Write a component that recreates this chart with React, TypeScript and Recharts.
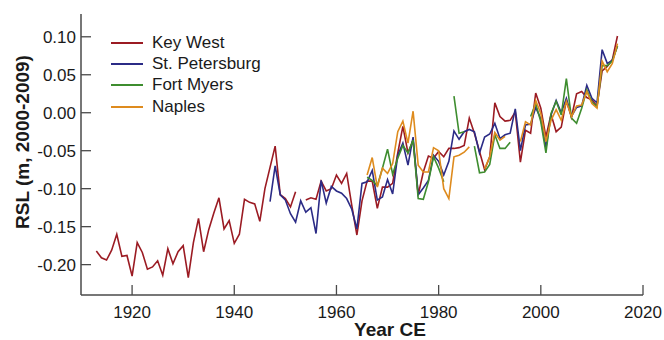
import { LineChart, Line, XAxis, YAxis, Legend, Label } from "recharts";

const FONT = '"Liberation Sans", Arial, Helvetica, sans-serif';
const TEXT = "#1a1a1a";
const AXIS = "#4a4a4a";

// annual relative sea level, metres, relative to 2000-2009 mean (null = gap)
const keyWestStart = 1913;
const keyWest = [
  -0.182, -0.191, -0.194, -0.181, -0.16, -0.189, -0.188, -0.215, -0.171, -0.184,
  -0.206, -0.203, -0.195, -0.214, -0.179, -0.199, -0.183, -0.175, -0.217, -0.171,
  -0.139, -0.183, -0.154, -0.132, -0.112, -0.153, -0.142, -0.172, -0.16, -0.114,
  -0.118, -0.12, -0.143, -0.1, -0.072, -0.044, -0.108, -0.113, -0.124, -0.104,
  null, -0.115, -0.112, -0.114, -0.09, -0.103, -0.1, -0.082, -0.093, -0.08,
  -0.122, -0.161, -0.116, -0.09, -0.09, -0.126, -0.098, -0.098, -0.093, -0.053,
  -0.018, -0.053, -0.036, -0.108, -0.078, -0.057, -0.06, -0.051, -0.058, -0.047,
  -0.047, -0.046, -0.043, -0.007, -0.027, -0.051, -0.075, -0.058, 0.013, -0.005,
  -0.011, -0.01, 0.001, -0.065, -0.023, -0.027, 0.026, 0.006, -0.032, -0.002,
  -0.025, -0.019, 0.016, -0.006, 0.025, 0.028, 0.02, 0.017, 0.009, 0.055,
  0.061, 0.07, 0.101,
];

const stPeteStart = 1947;
const stPetersburg = [
  -0.117, -0.07, -0.108, -0.115, -0.133, -0.144, -0.116, -0.131, -0.125, -0.159,
  -0.089, -0.119, -0.097, -0.103, -0.106, -0.113, -0.127, -0.153, -0.093, -0.091,
  -0.076, -0.115, -0.111, -0.088, -0.107, -0.056, -0.04, -0.069, -0.032, -0.108,
  -0.099, -0.089, -0.056, -0.064, -0.082, -0.064, -0.024, -0.035, -0.025, -0.022,
  -0.025, -0.053, -0.032, -0.028, -0.014, -0.034, -0.029, -0.027, 0.005, -0.05,
  -0.016, -0.015, 0.007, -0.008, -0.046, -0.003, 0.016, 0.0, 0.019, -0.005,
  0.007, 0.009, 0.036, 0.019, 0.013, 0.083, 0.065, 0.069, 0.088,
];

const fortMyersStart = 1966;
const fortMyers = [
  -0.085, -0.089, -0.096, -0.073, -0.048, -0.081, -0.06, -0.043, -0.053, -0.036,
  -0.113, -0.114, -0.091, -0.058, -0.073, -0.091, null, 0.022, -0.027, -0.025,
  null, -0.044, -0.079, -0.078, -0.068, -0.029, -0.047, -0.047, -0.039, null,
  null, null, -0.005, 0.012, -0.012, -0.053, -0.001, 0.015, -0.003, 0.045,
  -0.007, -0.014, 0.006, 0.03, 0.014, 0.008, 0.062, 0.062, 0.068, 0.088,
];

const naplesStart = 1966;
const naples = [
  -0.082, -0.059, -0.098, -0.073, -0.08, -0.067, -0.025, -0.011, -0.04, 0.002,
  -0.069, -0.078, -0.078, -0.046, -0.05, -0.1, -0.113, -0.058, -0.056, -0.052,
  -0.045, null, null, -0.074, -0.058, -0.026, -0.036, -0.031, null, null,
  -0.038, -0.012, -0.016, 0.016, -0.001, -0.038, -0.01, 0.004, -0.01, 0.015,
  -0.005, 0.009, 0.01, 0.028, 0.012, 0.006, 0.068, 0.054, 0.065, 0.091,
];

const xTicks = [1920, 1940, 1960, 1980, 2000, 2020];
const yTicks = [-0.2, -0.15, -0.1, -0.05, 0, 0.05, 0.1];

const series = [
  { key: "kw", name: "Key West", color: "#9b1b23", values: keyWest, start: keyWestStart },
  { key: "sp", name: "St. Petersburg", color: "#2b2b86", values: stPetersburg, start: stPeteStart },
  { key: "fm", name: "Fort Myers", color: "#3e8d2f", values: fortMyers, start: fortMyersStart },
  { key: "na", name: "Naples", color: "#de8b1e", values: naples, start: naplesStart },
];

const rows: Record<string, number | null>[] = [];
for (let yr = keyWestStart; yr <= 2015; yr++) {
  const row: Record<string, number | null> = { year: yr };
  for (const s of series) {
    const v = s.values[yr - s.start];
    row[s.key] = v === undefined ? null : v;
  }
  rows.push(row);
}

const BottomTick = ({ x, y, payload }: any) => (
  <g>
    <line x1={x} y1={y} x2={x} y2={y - 10} stroke={AXIS} strokeWidth={1.3} />
    <text x={x} y={y + 23} textAnchor="middle" fontSize={17} fontFamily={FONT} fill={TEXT}>
      {payload.value}
    </text>
  </g>
);

const TopTick = ({ x, y }: any) => (
  <line x1={x} y1={y} x2={x} y2={y + 10} stroke={AXIS} strokeWidth={1.3} />
);

const LeftTick = ({ x, y, payload }: any) => (
  <g>
    <line x1={x} y1={y} x2={x + 10} y2={y} stroke={AXIS} strokeWidth={1.3} />
    <text x={x - 5} y={y + 6} textAnchor="end" fontSize={17} fontFamily={FONT} fill={TEXT}>
      {Number(payload.value).toFixed(2)}
    </text>
  </g>
);

const RightTick = ({ x, y }: any) => (
  <line x1={x} y1={y} x2={x - 10} y2={y} stroke={AXIS} strokeWidth={1.3} />
);

const renderLegend = () => (
  <div style={{ fontFamily: FONT, fontSize: 17, color: TEXT }}>
    {series.map((s) => (
      <div key={s.key} style={{ display: "flex", alignItems: "center", height: 21.4 }}>
        <span
          style={{ width: 32, height: 0, borderTop: `2px solid ${s.color}`, marginRight: 9 }}
        />
        {s.name}
      </div>
    ))}
  </div>
);

export default function App() {
  return (
    <div style={{ position: "absolute", left: 0, top: 0 }}>
      <LineChart
        width={664}
        height={340}
        data={rows}
        margin={{ top: 14, right: 21, bottom: 0, left: 0 }}
      >
        <XAxis
          dataKey="year"
          type="number"
          domain={[1910, 2020]}
          allowDataOverflow
          ticks={xTicks}
          interval={0}
          height={45}
          tickSize={0}
          tickMargin={0}
          tickLine={false}
          tick={<BottomTick />}
          axisLine={{ stroke: AXIS, strokeWidth: 1.5 }}
        >
          <Label
            content={({ viewBox }: any) => (
              <text
                x={viewBox.x + viewBox.width / 2 + 28}
                y={viewBox.y + 41}
                textAnchor="middle"
                fontSize={19}
                fontWeight="bold"
                fontFamily={FONT}
                fill={TEXT}
              >
                Year CE
              </text>
            )}
          />
        </XAxis>
        <XAxis
          xAxisId="top"
          orientation="top"
          dataKey="year"
          type="number"
          domain={[1910, 2020]}
          allowDataOverflow
          ticks={xTicks}
          interval={0}
          height={0}
          tickSize={0}
          tickMargin={0}
          tickLine={false}
          tick={<TopTick />}
          axisLine={{ stroke: AXIS, strokeWidth: 1.5 }}
        />
        <YAxis
          type="number"
          domain={[-0.24, 0.13]}
          allowDataOverflow
          ticks={yTicks}
          interval={0}
          width={81}
          tickSize={0}
          tickMargin={0}
          tickLine={false}
          tick={<LeftTick />}
          axisLine={{ stroke: AXIS, strokeWidth: 1.5 }}
        >
          <Label
            content={() => (
              <text
                x={0}
                y={0}
                transform="translate(29, 142) rotate(-90)"
                textAnchor="middle"
                fontSize={19}
                fontWeight="bold"
                fontFamily={FONT}
                fill={TEXT}
              >
                RSL (m, 2000-2009)
              </text>
            )}
          />
        </YAxis>
        <YAxis
          yAxisId="right"
          orientation="right"
          type="number"
          domain={[-0.24, 0.13]}
          allowDataOverflow
          ticks={yTicks}
          interval={0}
          width={0}
          tickSize={0}
          tickMargin={0}
          tickLine={false}
          tick={<RightTick />}
          axisLine={{ stroke: AXIS, strokeWidth: 1.5 }}
        />
        <Legend
          layout="vertical"
          align="center"
          verticalAlign="middle"
          content={renderLegend}
          wrapperStyle={{ left: 111, top: 32, width: 200, height: 90 }}
        />
        {series.map((s) => (
          <Line
            key={s.key}
            dataKey={s.key}
            name={s.name}
            stroke={s.color}
            strokeWidth={1.6}
            dot={false}
            activeDot={false}
            connectNulls={false}
            isAnimationActive={false}
          />
        ))}
      </LineChart>
    </div>
  );
}
